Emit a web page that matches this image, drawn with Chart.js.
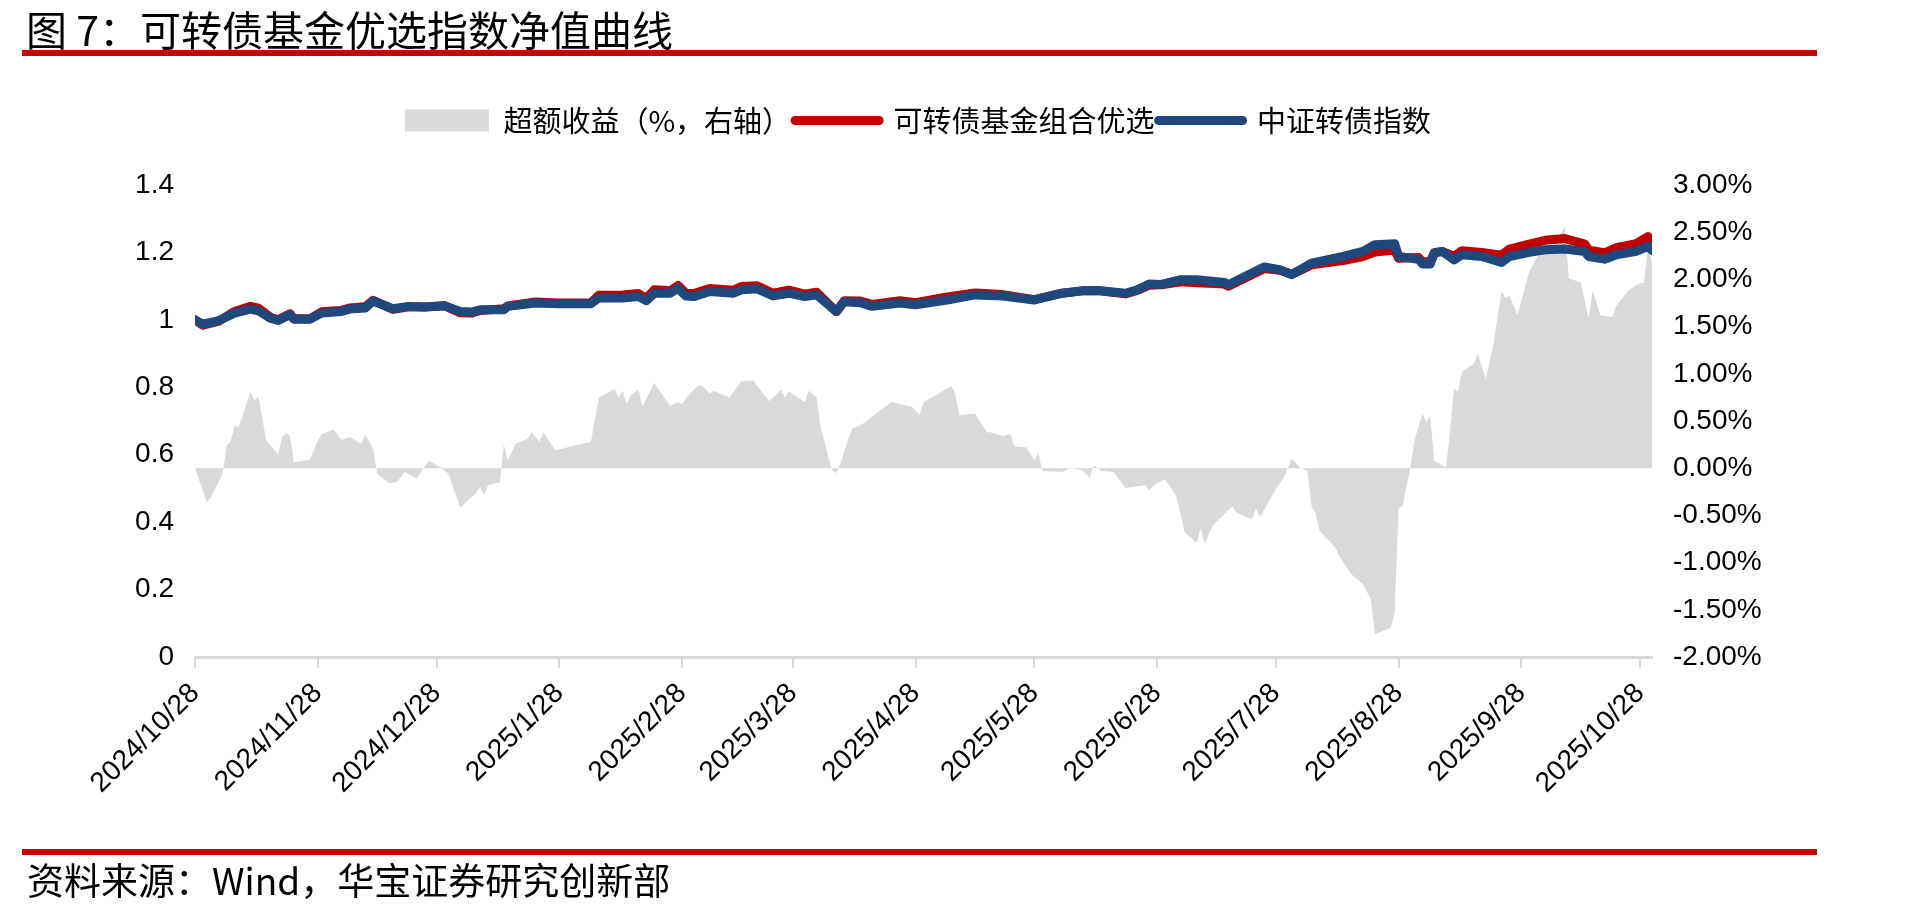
<!DOCTYPE html>
<html>
<head>
<meta charset="utf-8">
<title>可转债基金优选指数净值曲线</title>
<script src="https://cdn.jsdelivr.net/npm/chart.js@4.4.1/dist/chart.umd.min.js"></script>
<style>
  html, body { margin: 0; padding: 0; background: #fff; }
  body { width: 1912px; height: 913px; position: relative; overflow: hidden; font-family: "Noto Sans CJK SC", sans-serif; }
  .chart-box { position: absolute; left: 0; top: 0; width: 1912px; height: 913px; }
  .title { position: absolute; left: 26px; top: 3px; font-size: 41px; line-height: 50px; color: #000; white-space: nowrap; }
  .rule { position: absolute; left: 22px; width: 1795px; height: 6px; background: #c80000; }
  .source { position: absolute; left: 27px; top: 856px; font-size: 37px; line-height: 46px; color: #000; white-space: nowrap; }
</style>
</head>
<body>
<div class="chart-box"><canvas id="navChart"></canvas></div>
<div class="title">图 7：可转债基金优选指数净值曲线</div>
<div class="rule" style="top:50px"></div>
<div class="rule" style="top:849px"></div>
<div class="source">资料来源：Wind，华宝证券研究创新部</div>

<script>
// x 轴刻度
const tickLabels = ['2024/10/28', '2024/11/28', '2024/12/28', '2025/1/28', '2025/2/28', '2025/3/28',
    '2025/4/28', '2025/5/28', '2025/6/28', '2025/7/28', '2025/8/28', '2025/9/28', '2025/10/28'];

// 净值曲线（左轴）
const navDates = [
    '2024-10-28', '2024-10-30', '2024-11-03', '2024-11-07', '2024-11-11', '2024-11-13', '2024-11-16', '2024-11-18', '2024-11-21', '2024-11-22',
    '2024-11-26', '2024-11-29', '2024-12-04', '2024-12-06', '2024-12-10', '2024-12-12', '2024-12-17', '2024-12-21', '2024-12-25', '2024-12-30',
    '2025-01-03', '2025-01-06', '2025-01-08', '2025-01-14', '2025-01-15', '2025-01-22', '2025-01-28', '2025-02-05', '2025-02-07', '2025-02-13',
    '2025-02-17', '2025-02-19', '2025-02-21', '2025-02-25', '2025-02-27', '2025-03-01', '2025-03-03', '2025-03-07', '2025-03-13', '2025-03-15',
    '2025-03-19', '2025-03-23', '2025-03-27', '2025-03-31', '2025-04-03', '2025-04-08', '2025-04-10', '2025-04-14', '2025-04-17', '2025-04-24',
    '2025-04-28', '2025-05-06', '2025-05-13', '2025-05-20', '2025-05-28', '2025-06-04', '2025-06-09', '2025-06-13', '2025-06-20', '2025-06-23',
    '2025-06-26', '2025-06-29', '2025-07-04', '2025-07-08', '2025-07-15', '2025-07-16', '2025-07-25', '2025-07-29', '2025-08-01', '2025-08-06',
    '2025-08-14', '2025-08-19', '2025-08-22', '2025-08-27', '2025-08-28', '2025-09-02', '2025-09-03', '2025-09-05', '2025-09-06', '2025-09-08',
    '2025-09-11', '2025-09-13', '2025-09-18', '2025-09-23', '2025-09-25', '2025-09-30', '2025-10-04', '2025-10-09', '2025-10-14', '2025-10-15',
    '2025-10-19', '2025-10-22', '2025-10-27', '2025-10-30', '2025-10-31'
];
const fundNav = [
    1.000, 0.984, 0.996, 1.025, 1.040, 1.035, 1.008, 1.000, 1.018, 1.003,
    1.003, 1.024, 1.028, 1.035, 1.039, 1.058, 1.031, 1.039, 1.038, 1.042,
    1.021, 1.020, 1.028, 1.033, 1.041, 1.053, 1.050, 1.051, 1.073, 1.074,
    1.078, 1.064, 1.089, 1.086, 1.102, 1.079, 1.078, 1.093, 1.088, 1.099,
    1.101, 1.079, 1.088, 1.076, 1.082, 1.024, 1.057, 1.056, 1.046, 1.057,
    1.051, 1.068, 1.080, 1.075, 1.060, 1.079, 1.086, 1.087, 1.077, 1.087,
    1.103, 1.104, 1.113, 1.110, 1.106, 1.100, 1.152, 1.147, 1.135, 1.163,
    1.176, 1.188, 1.201, 1.207, 1.183, 1.185, 1.173, 1.172, 1.199, 1.203,
    1.188, 1.205, 1.200, 1.192, 1.210, 1.225, 1.236, 1.241, 1.225, 1.207,
    1.199, 1.214, 1.226, 1.247, 1.233
];
const indexNav = [
    1.000, 0.987, 0.998, 1.020, 1.032, 1.027, 1.005, 0.998, 1.015, 1.002,
    1.002, 1.020, 1.025, 1.032, 1.035, 1.056, 1.033, 1.040, 1.038, 1.042,
    1.025, 1.023, 1.030, 1.030, 1.040, 1.050, 1.048, 1.048, 1.065, 1.065,
    1.069, 1.057, 1.079, 1.079, 1.094, 1.071, 1.069, 1.084, 1.079, 1.089,
    1.092, 1.071, 1.079, 1.069, 1.074, 1.025, 1.054, 1.051, 1.040, 1.050,
    1.045, 1.059, 1.074, 1.071, 1.059, 1.079, 1.086, 1.087, 1.079, 1.089,
    1.106, 1.105, 1.119, 1.119, 1.111, 1.104, 1.157, 1.149, 1.134, 1.168,
    1.188, 1.203, 1.223, 1.226, 1.188, 1.180, 1.166, 1.166, 1.198, 1.203,
    1.178, 1.193, 1.188, 1.170, 1.188, 1.200, 1.208, 1.210, 1.203, 1.188,
    1.180, 1.193, 1.203, 1.218, 1.206
];

// 超额收益（%，右轴）
const excessDates = [
    '2024-10-28', '2024-10-31', '2024-11-01', '2024-11-04', '2024-11-05', '2024-11-06', '2024-11-07', '2024-11-08', '2024-11-11', '2024-11-12',
    '2024-11-13', '2024-11-15', '2024-11-18', '2024-11-19', '2024-11-20', '2024-11-21', '2024-11-22', '2024-11-26', '2024-11-28', '2024-11-29',
    '2024-12-02', '2024-12-04', '2024-12-06', '2024-12-09', '2024-12-10', '2024-12-12', '2024-12-13', '2024-12-16', '2024-12-18', '2024-12-20',
    '2024-12-23', '2024-12-26', '2024-12-29', '2024-12-31', '2025-01-03', '2025-01-07', '2025-01-08', '2025-01-09', '2025-01-10', '2025-01-13',
    '2025-01-14', '2025-01-15', '2025-01-17', '2025-01-20', '2025-01-21', '2025-01-23', '2025-01-24', '2025-01-27', '2025-02-05', '2025-02-07',
    '2025-02-11', '2025-02-12', '2025-02-13', '2025-02-14', '2025-02-15', '2025-02-17', '2025-02-18', '2025-02-21', '2025-02-25', '2025-02-27',
    '2025-02-28', '2025-03-02', '2025-03-04', '2025-03-05', '2025-03-07', '2025-03-08', '2025-03-12', '2025-03-15', '2025-03-18', '2025-03-22',
    '2025-03-25', '2025-03-26', '2025-03-27', '2025-03-31', '2025-04-01', '2025-04-03', '2025-04-04', '2025-04-07', '2025-04-08', '2025-04-09',
    '2025-04-11', '2025-04-12', '2025-04-15', '2025-04-19', '2025-04-22', '2025-04-24', '2025-04-27', '2025-04-29', '2025-04-30', '2025-05-03',
    '2025-05-07', '2025-05-08', '2025-05-09', '2025-05-13', '2025-05-16', '2025-05-17', '2025-05-20', '2025-05-22', '2025-05-23', '2025-05-26',
    '2025-05-28', '2025-05-29', '2025-05-30', '2025-06-04', '2025-06-06', '2025-06-09', '2025-06-11', '2025-06-12', '2025-06-14', '2025-06-17',
    '2025-06-20', '2025-06-25', '2025-06-26', '2025-06-28', '2025-06-30', '2025-07-02', '2025-07-03', '2025-07-05', '2025-07-08', '2025-07-09',
    '2025-07-10', '2025-07-12', '2025-07-17', '2025-07-18', '2025-07-22', '2025-07-23', '2025-07-24', '2025-07-28', '2025-07-30', '2025-07-31',
    '2025-08-01', '2025-08-03', '2025-08-05', '2025-08-06', '2025-08-07', '2025-08-08', '2025-08-12', '2025-08-13', '2025-08-16', '2025-08-19',
    '2025-08-21', '2025-08-22', '2025-08-26', '2025-08-27', '2025-08-28', '2025-08-29', '2025-08-31', '2025-09-01', '2025-09-03', '2025-09-04',
    '2025-09-05', '2025-09-06', '2025-09-09', '2025-09-10', '2025-09-11', '2025-09-12', '2025-09-13', '2025-09-16', '2025-09-17', '2025-09-19',
    '2025-09-21', '2025-09-23', '2025-09-24', '2025-09-25', '2025-09-27', '2025-09-30', '2025-10-02', '2025-10-06', '2025-10-09', '2025-10-10',
    '2025-10-13', '2025-10-15', '2025-10-16', '2025-10-18', '2025-10-21', '2025-10-22', '2025-10-25', '2025-10-27', '2025-10-29', '2025-10-30',
    '2025-10-31'
];
const excessReturn = [
    0.00, -0.36, -0.31, -0.06, 0.24, 0.28, 0.45, 0.43, 0.81, 0.72,
    0.76, 0.29, 0.15, 0.33, 0.37, 0.34, 0.06, 0.09, 0.29, 0.36,
    0.41, 0.30, 0.33, 0.26, 0.36, 0.20, -0.06, -0.16, -0.15, -0.04,
    -0.11, 0.08, 0.01, -0.06, -0.42, -0.26, -0.20, -0.29, -0.18, -0.15,
    0.25, 0.08, 0.26, 0.31, 0.38, 0.28, 0.38, 0.19, 0.28, 0.75,
    0.84, 0.75, 0.82, 0.68, 0.77, 0.83, 0.66, 0.90, 0.66, 0.70,
    0.68, 0.79, 0.87, 0.88, 0.79, 0.82, 0.75, 0.92, 0.93, 0.71,
    0.83, 0.75, 0.81, 0.70, 0.82, 0.75, 0.43, -0.03, -0.05, 0.05,
    0.31, 0.42, 0.48, 0.61, 0.70, 0.68, 0.65, 0.57, 0.70, 0.77,
    0.87, 0.79, 0.56, 0.58, 0.38, 0.38, 0.34, 0.36, 0.23, 0.22,
    0.08, 0.16, -0.03, -0.04, 0.00, -0.02, -0.10, 0.03, -0.03, -0.04,
    -0.21, -0.18, -0.23, -0.16, -0.12, -0.24, -0.31, -0.68, -0.79, -0.64,
    -0.80, -0.61, -0.40, -0.47, -0.54, -0.43, -0.52, -0.22, -0.10, 0.00,
    0.10, 0.01, -0.03, -0.40, -0.47, -0.66, -0.84, -0.93, -1.12, -1.23,
    -1.39, -1.76, -1.69, -1.53, -0.42, -0.40, 0.01, 0.29, 0.58, 0.49,
    0.55, 0.08, 0.01, 0.40, 0.84, 0.81, 1.02, 1.11, 1.21, 0.95,
    1.32, 1.88, 1.80, 1.83, 1.62, 2.08, 2.24, 2.35, 2.56, 2.01,
    1.97, 1.59, 1.88, 1.62, 1.60, 1.72, 1.88, 1.94, 1.97, 2.36,
    2.18
];

// 日期 -> 距 2024/10/28 的天数（日期轴按自然日等距）
const t0 = Date.UTC(2024, 9, 28);
function dayOf(str) {
    const [y, m, d] = str.split(/[-\/]/).map(Number);
    return (Date.UTC(y, m - 1, d) - t0) / 86400000;
}
const toPoints = (dates, values) => dates.map((d, i) => ({ x: dayOf(d), y: values[i] }));
const tickDays = tickLabels.map(dayOf);
const lastDay = dayOf(navDates[navDates.length - 1]);

const tickFont = { family: '"Liberation Sans", Arial, sans-serif', size: 28 };

// 图例与绘图区之间留白
const legendGap = {
    id: 'legendGap',
    beforeInit(chart) {
        const fit = chart.legend.fit;
        chart.legend.fit = function () {
            fit.call(this);
            this.height += 40;
        };
    }
};

new Chart(document.getElementById('navChart'), {
    type: 'line',
    data: {
        datasets: [
            {
                label: '超额收益（%，右轴）',
                data: toPoints(excessDates, excessReturn),
                yAxisID: 'y2',
                fill: 'origin',
                backgroundColor: '#d9d9d9',
                borderColor: '#d9d9d9',
                borderWidth: 0,
                pointRadius: 0,
                pointStyle: 'rect',
                order: 3
            },
            {
                label: '可转债基金组合优选',
                data: toPoints(navDates, fundNav),
                yAxisID: 'y',
                borderColor: '#c00000',
                backgroundColor: '#c00000',
                borderWidth: 9,
                pointRadius: 0,
                pointStyle: 'line',
                fill: false,
                order: 2
            },
            {
                label: '中证转债指数',
                data: toPoints(navDates, indexNav),
                yAxisID: 'y',
                borderColor: '#1f497d',
                backgroundColor: '#1f497d',
                borderWidth: 9,
                pointRadius: 0,
                pointStyle: 'line',
                fill: false,
                order: 1
            }
        ]
    },
    options: {
        responsive: true,
        maintainAspectRatio: false,
        animation: false,
        layout: { padding: { top: 102, right: 76, left: 0, bottom: 0 } },
        elements: {
            line: { tension: 0, borderJoinStyle: 'round', borderCapStyle: 'round' }
        },
        plugins: {
            tooltip: { enabled: false },
            legend: {
                position: 'top',
                labels: {
                    usePointStyle: true,
                    pointStyleWidth: 84,
                    boxHeight: 22,
                    padding: 4,
                    color: '#000',
                    font: { family: '"Noto Sans CJK SC", sans-serif', size: 29 },
                    sort: (a, b) => a.datasetIndex - b.datasetIndex,
                    generateLabels: chart => Chart.defaults.plugins.legend.labels.generateLabels(chart)
                        .map(item => Object.assign(item, { lineCap: 'round' }))
                }
            }
        },
        scales: {
            x: {
                type: 'linear',
                min: 0,
                max: lastDay,
                afterBuildTicks: axis => { axis.ticks = tickDays.map(v => ({ value: v })); },
                afterFit: axis => { axis.height = 256; },
                ticks: {
                    autoSkip: false,
                    maxRotation: 45,
                    minRotation: 45,
                    padding: 9,
                    color: '#000',
                    font: { family: tickFont.family, size: 28 },
                    callback: (v, i) => tickLabels[i]
                },
                grid: { drawOnChartArea: false, drawTicks: true, tickLength: 11, color: '#d9d9d9', lineWidth: 2 },
                border: { display: true, color: '#d9d9d9', width: 3 }
            },
            y: {
                position: 'left',
                min: 0,
                max: 1.4,
                afterFit: axis => { axis.width = 195; },
                ticks: {
                    stepSize: 0.2,
                    padding: 21,
                    color: '#000',
                    font: tickFont,
                    callback: v => String(+v.toFixed(1))
                },
                grid: { display: false, drawTicks: false },
                border: { display: false }
            },
            y2: {
                position: 'right',
                min: -2,
                max: 3,
                afterFit: axis => { axis.width = 184; },
                ticks: {
                    stepSize: 0.5,
                    padding: 21,
                    color: '#000',
                    font: tickFont,
                    callback: v => v.toFixed(2) + '%'
                },
                grid: { display: false, drawTicks: false },
                border: { display: false }
            }
        }
    },
    plugins: [legendGap]
});
</script>
</body>
</html>
